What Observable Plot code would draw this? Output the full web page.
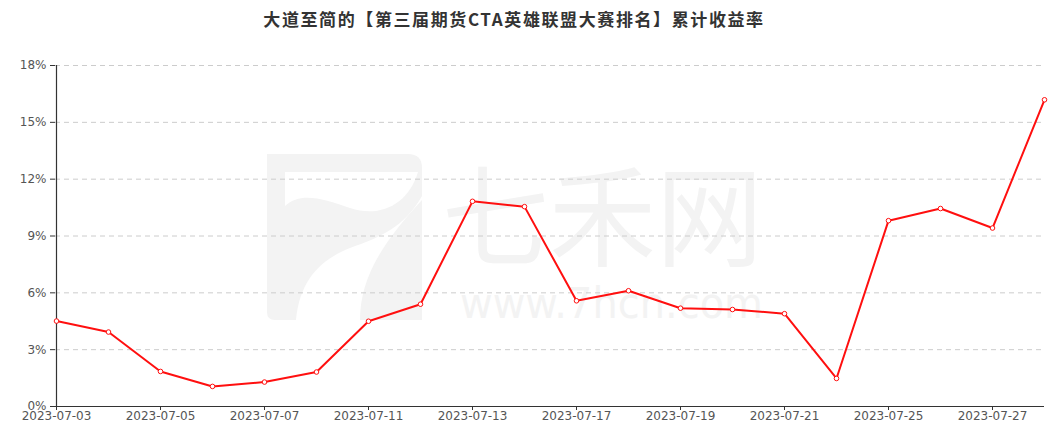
<!DOCTYPE html>
<html><head><meta charset="utf-8">
<script src="https://cdn.jsdelivr.net/npm/d3@7"></script>
<script src="https://cdn.jsdelivr.net/npm/@observablehq/plot@0.6"></script>
<style>
body{margin:0;background:#fff;}
#wrap{position:relative;width:1059px;height:430px;overflow:hidden}
#title{position:absolute;top:8px;left:0;width:1028px;text-align:center;font-family:"Noto Sans CJK SC",sans-serif;font-size:17px;font-weight:bold;color:#333;line-height:22px;letter-spacing:1.6px}
#chart{position:absolute;left:0;top:35px}
</style>
</head><body>
<div id="wrap"><div id="title">大道至简的【第三届期货CTA英雄联盟大赛排名】累计收益率</div><div id="chart"></div></div>
<script>
const dates = ["2023-07-03","2023-07-04","2023-07-05","2023-07-06","2023-07-07","2023-07-10","2023-07-11","2023-07-12","2023-07-13","2023-07-14","2023-07-17","2023-07-18","2023-07-19","2023-07-20","2023-07-21","2023-07-24","2023-07-25","2023-07-26","2023-07-27","2023-07-28"];
const values = [4.51,3.93,1.85,1.06,1.29,1.82,4.50,5.40,10.83,10.55,5.58,6.11,5.19,5.12,4.90,1.48,9.81,10.45,9.42,16.19];
const xTicks = ["2023-07-03","2023-07-05","2023-07-07","2023-07-11","2023-07-13","2023-07-17","2023-07-19","2023-07-21","2023-07-25","2023-07-27"];
const yTicks = [0,3,6,9,12,15,18];

const data = dates.map((d,i)=>({date:d, value:values[i]}));
const fmt = d => d + "%";

const chart = Plot.plot({
  width:1059, height:395,
  marginLeft:55, marginRight:15, marginTop:30, marginBottom:24,
  style:{fontFamily:"'DejaVu Sans',sans-serif", fontSize:"12px", color:"#555", background:"transparent", overflow:"visible"},
  x:{type:"point", domain:dates, padding:0, label:null},
  y:{domain:[0,18], label:null},
  marks:[
    Plot.gridY(yTicks.filter(d=>d>0), {stroke:"#ccc", strokeOpacity:1, strokeDasharray:"5,4"}),
    Plot.axisY({ticks:yTicks, tickFormat:fmt, tickSize:5, tickPadding:4, stroke:"#333", strokeOpacity:1, fill:"#555", label:null}),
    Plot.axisX({ticks:xTicks, tickSize:4, tickPadding:0.5, stroke:"#333", strokeOpacity:1, fill:"#555", label:null, style:{letterSpacing:"0.6px"}}),
    Plot.ruleY([0], {stroke:"#333", strokeWidth:1.2}),
    Plot.ruleX([dates[0]], {stroke:"#333", strokeWidth:1.2}),
    Plot.line(data, {x:"date", y:"value", stroke:"#ff0f0f", strokeWidth:2}),
    Plot.dot(data, {x:"date", y:"value", r:2.3, fill:"white", stroke:"#ff0f0f", strokeWidth:1})
  ]
});
document.getElementById("chart").appendChild(chart);

// faint watermark behind the chart
const svg = d3.select(chart);
const wm = svg.insert("g", ":first-child").attr("fill", "#f3f3f3").attr("text-anchor", "start").attr("transform", "translate(0,-35)");
wm.append("path").attr("d", "M267,154 H408 Q422,154 422,168 V172 H267 Z");
wm.append("rect").attr("x",267).attr("y",168).attr("width",18).attr("height",84);
wm.append("path").attr("d", "M285,206 C300,192 322,198 350,208 C380,218 408,205 418,172 L422,172 L422,196 C404,228 378,238 350,248 C320,260 300,280 296,320 L275,320 Q267,320 267,312 L267,250 L285,250 Z");
wm.append("path").attr("d", "M422,200 V320 H360 C360,280 380,245 422,200 Z");
wm.append("text").attr("x",442).attr("y",258).attr("text-anchor","start").attr("font-family","'Noto Sans CJK SC',sans-serif").attr("font-size",110).attr("textLength",321).attr("lengthAdjust","spacingAndGlyphs").text("七禾网");
wm.append("text").attr("x",460).attr("y",318).attr("text-anchor","start").attr("font-family","'DejaVu Sans',sans-serif").attr("font-size",42).attr("textLength",303).attr("lengthAdjust","spacingAndGlyphs").text("www.7hcn.com");
</script>
</body></html>
